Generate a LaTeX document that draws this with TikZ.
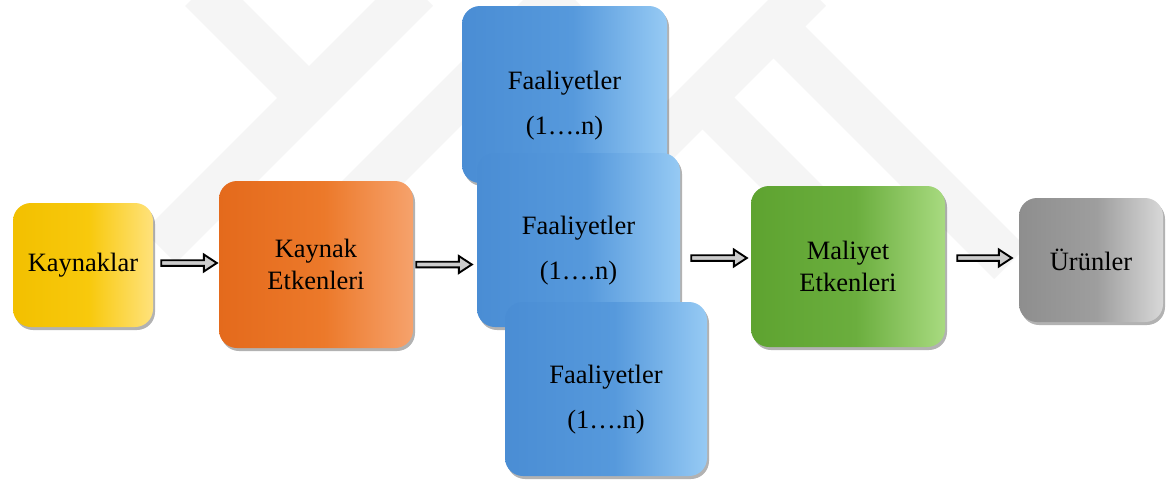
\documentclass[tikz,border=0pt]{standalone}
\usepackage{fontspec}
\setmainfont{Liberation Serif}
\usetikzlibrary{positioning}
\usetikzlibrary{calc}
\usetikzlibrary{shadows}
\definecolor{yelD}{HTML}{F2C000}
\definecolor{yelM}{HTML}{F8C90C}
\definecolor{yelL}{HTML}{FFE27C}
\definecolor{oraD}{HTML}{E46A1C}
\definecolor{oraM}{HTML}{EC792A}
\definecolor{oraL}{HTML}{F6A26C}
\definecolor{bluD}{HTML}{4A8DD4}
\definecolor{bluM}{HTML}{5699DC}
\definecolor{bluL}{HTML}{96CAF4}
\definecolor{greD}{HTML}{5EA330}
\definecolor{greM}{HTML}{6BAE3E}
\definecolor{greL}{HTML}{A8DA80}
\definecolor{gryD}{HTML}{8E8E8E}
\definecolor{gryM}{HTML}{9E9E9E}
\definecolor{gryL}{HTML}{D8D8D8}
\pgfdeclarehorizontalshading[boxD,boxM,boxL]{bevel}{100bp}{%
  color(0bp)=(boxD); color(25bp)=(boxD); color(52bp)=(boxM);
  color(75bp)=(boxL); color(100bp)=(boxL)}
\tikzset{
  box/.style = {/utils/exec={\colorlet{boxD}{#1D}\colorlet{boxM}{#1M}\colorlet{boxL}{#1L}},
    shading=bevel, rounded corners=18pt, inner sep=0pt, align=center,
    font=\fontsize{26.5}{32}\selectfont,
    drop shadow={shadow xshift=2pt, shadow yshift=-3pt, opacity=.3, fill=black}},
  blockarr/.style = {draw=black, fill=gray!40, line width=1.9pt, line join=miter},
  mark band/.style = {color=gray!8, line width=45pt}
}
\newcommand{\blockArrow}[3][0pt]{%
  % #1: vertical offset, #2: start, #3: tip
  \draw[blockarr] let \p1=(#2), \p2=(#3) in
    (\x1,\y1+#1+2.8pt) -- (\x2-13pt,\y1+#1+2.8pt) -- (\x2-13pt,\y1+#1+8.5pt)
    -- (\x2,\y1+#1) -- (\x2-13pt,\y1+#1-8.5pt) -- (\x2-13pt,\y1+#1-2.8pt)
    -- (\x1,\y1+#1-2.8pt) -- cycle;
}
\begin{document}
\begin{tikzpicture}[x=1pt,y=-1pt]
    % Page
    \fill[white] (0,0) rectangle (1166,479);
    \useasboundingbox (0,0) rectangle (1166,479);

    % Watermark bands
    \begin{scope}
        \clip (0,0) rectangle (1166,479);
        \draw[mark band] (201,-10) -- (300,89);
        \draw[mark band] (417,-10) -- (160,247);
        \draw[mark band] (565,-10) -- (330,225);
        \draw[mark band] (810,-10) -- (600,200);
        \draw[mark band] (765,18) -- (1010,263);
        \draw[mark band] (705,100) -- (860,255);
    \end{scope}

    % Boxes
    \node[box={yel}, minimum width=140, minimum height=124] (kaynaklar) at (83,265) {Kaynaklar};
    \node[box={ora}, minimum width=194, minimum height=167] (kaynakEtk) at (316,264.5) {Kaynak\\Etkenleri};
    \node[box={blu}, minimum width=205, minimum height=177] (faal1) at (564.5,94.5) {\mbox{}\\[8pt]Faaliyetler\\[13pt](1….n)};
    \node[box={blu}, minimum width=203, minimum height=174] (faal2) at (578.5,240) {\mbox{}\\[8pt]Faaliyetler\\[13pt](1….n)};
    \node[box={blu}, minimum width=202, minimum height=174] (faal3) at (606,389) {\mbox{}\\[8pt]Faaliyetler\\[13pt](1….n)};
    \node[box={gre}, minimum width=194, minimum height=161] (maliyetEtk) at (848,266.5) {Maliyet\\Etkenleri};
    \node[box={gry}, minimum width=144, minimum height=124] (urunler) at (1091,260) {Ürünler};

    % Arrows
    \blockArrow[2pt]{[xshift=8pt]kaynaklar.east}{[xshift=-2pt]kaynakEtk.west}
    \blockArrow{[xshift=3pt]kaynakEtk.east}{[xshift=-5pt]faal2.west}
    \blockArrow[-18pt]{[xshift=11pt]faal2.east}{[xshift=-4pt]maliyetEtk.west}
    \blockArrow[8.5pt]{[xshift=12pt]maliyetEtk.east}{[xshift=-7pt]urunler.west}
\end{tikzpicture}
\end{document}
